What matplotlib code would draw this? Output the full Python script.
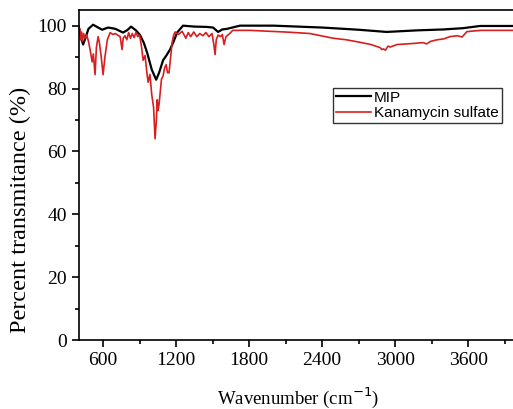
import numpy as np
import matplotlib.pyplot as plt

# MIP spectrum (wavenumber, transmittance)
mip_wn = [400, 420, 436, 450, 480, 518, 550, 592, 641, 700, 764, 800, 830, 870, 904,
          935, 962, 1000, 1036, 1060, 1093, 1120, 1150, 1180, 1208, 1257, 1350,
          1450, 1504, 1545, 1580, 1620, 1725, 2000, 2400, 2700, 2930, 3180,
          3400, 3558, 3698, 4000]
mip_t = [99.7, 96.0, 94.0, 95.5, 99.0, 100.3, 99.6, 98.7, 99.4, 99.0, 97.8, 98.6, 99.7, 98.5, 97.0,
         94.5, 91.4, 86.0, 82.8, 85.0, 89.0, 90.5, 92.4, 95.0, 97.8, 100.0, 99.7,
         99.6, 99.4, 98.0, 98.8, 99.0, 100.0, 100.0, 99.4, 98.7, 98.0, 98.5,
         98.8, 99.2, 99.9, 99.9]

# Kanamycin sulfate spectrum
kan_wn = [400, 408, 415, 422, 430, 440, 450, 465, 480, 495, 510, 520, 534, 545, 559,
          570, 585, 600, 615, 635, 658, 680, 700, 720, 740, 756, 765, 780, 795,
          810, 825, 840, 855, 870, 885, 900, 915, 929, 945, 960, 970, 985, 1000,
          1015, 1027, 1038, 1045, 1052, 1060, 1070, 1080, 1093, 1105, 1118, 1130,
          1142, 1155, 1167, 1180, 1192, 1220, 1250, 1280, 1300, 1320, 1345, 1370,
          1395, 1420, 1445, 1470, 1495, 1510, 1520, 1530, 1545, 1565, 1580, 1594,
          1610, 1641, 1665, 1808, 2137, 2300, 2490, 2600, 2712, 2800, 2877, 2890,
          2904, 2920, 2942, 2960, 3016, 3100, 3230, 3260, 3290, 3344, 3400, 3450,
          3510, 3550, 3590, 3700, 4000]
kan_t = [97.0, 99.0, 95.5, 98.0, 95.0, 97.5, 96.0, 97.0, 95.0, 92.0, 88.5, 91.0, 84.4, 93.0, 96.5,
         94.5, 90.0, 84.4, 90.0, 95.5, 97.8, 97.2, 97.5, 97.0, 96.5, 92.4, 96.0, 96.8, 95.5,
         97.8, 96.0, 97.5, 96.2, 97.8, 96.5, 97.0, 93.5, 89.0, 90.5, 85.0, 82.0, 84.5, 78.0,
         74.0, 64.0, 70.0, 76.4, 73.0, 75.0, 79.0, 83.0, 84.0, 86.5, 87.6, 85.0,
         85.0, 90.0, 94.6, 97.0, 98.0, 97.2, 98.2, 96.0, 97.8, 96.5, 98.0, 96.5,
         97.5, 96.8, 97.8, 96.5, 97.5, 94.0, 90.8, 95.5, 97.0, 96.5, 97.2, 94.0,
         96.5, 97.5, 98.5, 98.5, 97.9, 97.5, 96.0, 95.5, 94.7, 94.0, 93.0, 92.4,
         92.6, 92.2, 93.5, 93.2, 94.0, 94.2, 94.6, 94.2, 95.0, 95.5, 95.8, 96.5,
         96.8, 96.4, 98.1, 98.5, 98.5]

xticks = [600, 1200, 1800, 2400, 3000, 3600]
yticks = [0, 20, 40, 60, 80, 100]

fig = plt.figure(figsize=(5.13, 4.09), dpi=100)
ax = fig.add_axes([0.1535, 0.1687, 0.854, 0.807])

ax.plot(mip_wn, mip_t, color='black', lw=1.6, label='MIP')
ax.plot(kan_wn, kan_t, color='#d81e1e', lw=1.2, label='Kanamycin sulfate')

ax.set_xlim(400, 4000)
ax.set_ylim(0, 105)
ax.set_xticks(xticks)
ax.set_yticks(yticks)
ax.set_xticks(np.arange(900, 4000, 600), minor=True)
ax.set_yticks(np.arange(10, 101, 20), minor=True)
ax.tick_params(which='major', direction='out', length=5, width=1.2)
ax.tick_params(which='minor', direction='out', length=3, width=1.2)
for lab in ax.get_xticklabels() + ax.get_yticklabels():
    lab.set_fontfamily('Liberation Serif')
    lab.set_fontsize(14)
for s in ax.spines.values():
    s.set_linewidth(1.2)
ax.spines['right'].set_visible(False)

ax.set_xlabel('Wavenumber (cm$^{-1}$)', fontfamily='Liberation Serif', fontsize=13.5, labelpad=12)
ax.set_ylabel('Percent transmitance (%)', fontfamily='Liberation Serif', fontsize=17.5)
ax.yaxis.set_label_coords(-0.11, 0.395)

leg = ax.legend(loc='upper left', bbox_to_anchor=(0.58, 0.765), frameon=True, fancybox=False,
                prop={'family': 'Liberation Sans', 'size': 11}, handlelength=2.3,
                borderpad=0.2, labelspacing=0.1, handletextpad=0.2, borderaxespad=0)
leg.get_frame().set_edgecolor('black')
leg.get_frame().set_linewidth(1.0)

fig.savefig('out.png', dpi=100)
